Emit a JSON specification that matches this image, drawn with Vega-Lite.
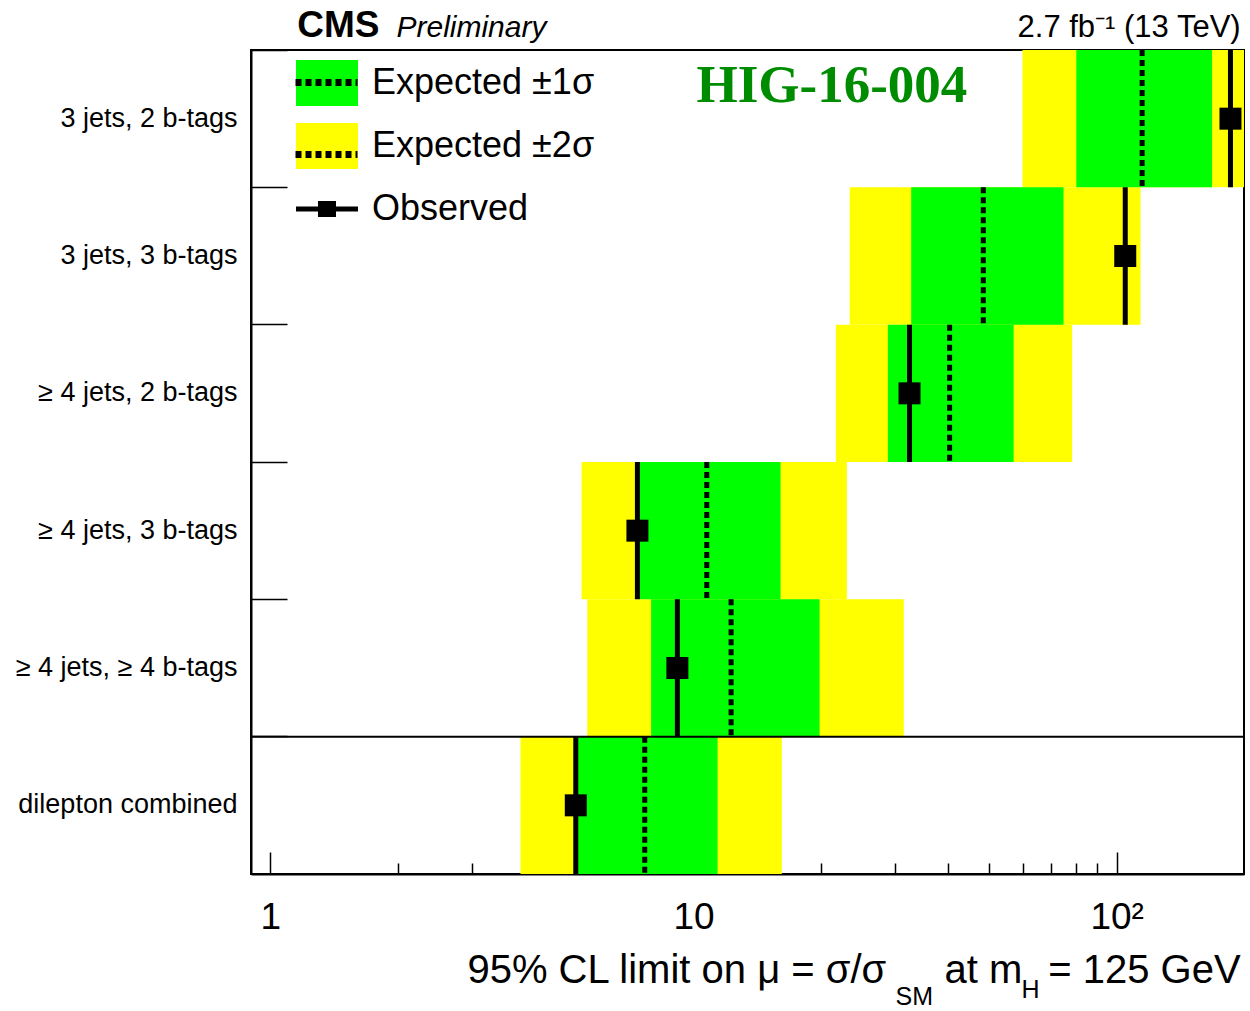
{
  "$schema": "https://vega.github.io/schema/vega-lite/v6.json",
  "autosize": {"type": "none"},
  "padding": {"left": 251, "top": 50, "right": 6, "bottom": 137},
  "width": 993,
  "height": 824,
  "background": "white",
  "config": {"view": {"stroke": "black", "strokeWidth": 2}, "font": "Liberation Sans"},
  "data": {"values": [
    {"cat": "3 jets, 2 b-tags", "lo2": 59.9, "lo1": 80.3, "exp": 114.9, "hi1": 168.1, "hi2": 260, "obs": 185.8},
    {"cat": "3 jets, 3 b-tags", "lo2": 23.4, "lo1": 32.7, "exp": 48.4, "hi1": 74.9, "hi2": 113.9, "obs": 104.8},
    {"cat": "≥ 4 jets, 2 b-tags", "lo2": 21.7, "lo1": 28.8, "exp": 40.3, "hi1": 57.1, "hi2": 78.5, "obs": 32.4},
    {"cat": "≥ 4 jets, 3 b-tags", "lo2": 5.44, "lo1": 7.45, "exp": 10.75, "hi1": 16.06, "hi2": 23.04, "obs": 7.37},
    {"cat": "≥ 4 jets, ≥ 4 b-tags", "lo2": 5.61, "lo1": 7.94, "exp": 12.27, "hi1": 19.86, "hi2": 31.4, "obs": 9.16},
    {"cat": "dilepton combined", "lo2": 3.9, "lo1": 5.32, "exp": 7.67, "hi1": 11.4, "hi2": 16.17, "obs": 5.27}
  ]},
  "layer": [
    {
      "mark": {"type": "bar", "clip": true},
      "encoding": {
        "x": {"field": "lo2", "type": "quantitative",
          "scale": {"type": "log", "domain": [0.9, 200], "nice": false},
          "axis": {"title": null, "grid": false,
            "values": [1, 2, 3, 4, 5, 6, 7, 8, 9, 10, 20, 30, 40, 50, 60, 70, 80, 90, 100],
            "labelExpr": "datum.value == 1 ? '1' : datum.value == 10 ? '10' : datum.value == 100 ? '10²' : ''",
            "tickSize": {"condition": {"test": "datum.value == 1 || datum.value == 10 || datum.value == 100", "value": -22}, "value": -11},
            "tickColor": "black", "tickWidth": 1.5, "domainColor": "black", "domainWidth": 2,
            "labelFontSize": 37, "labelColor": "black", "labelPadding": 47,
            "labelOverlap": false, "labelFlush": false}},
        "x2": {"field": "hi2"},
        "y": {"field": "cat", "type": "nominal", "sort": null,
          "scale": {"paddingInner": 0, "paddingOuter": 0},
          "axis": {"title": null, "bandPosition": 0, "tickSize": -36, "tickColor": "black", "tickWidth": 1.5,
            "domainColor": "black", "domainWidth": 2, "labelFontSize": 27, "labelColor": "black",
            "labelPadding": 50, "labelLimit": 400}},
        "fill": {"datum": "Expected ±2σ", "type": "nominal",
          "scale": {"domain": ["Expected ±1σ", "Expected ±2σ", "Observed"], "range": ["#00ff00", "#ffff00", "#000000"]},
          "legend": {"orient": "none", "legendX": 58, "legendY": 15, "title": null, "padding": 0,
            "gridAlign": "all", "labelLimit": 500,
            "symbolSize": 3844, "labelFontSize": 36, "labelOffset": 27, "rowPadding": -5, "labelColor": "black",
            "symbolStrokeWidth": 0, "symbolOpacity": 1,
            "encode": {"symbols": {"update": {
              "shape": {"signal": "datum.value === 'Observed' ? 'M-1,-0.742L-1,-0.742M-1,0H1M-0.21,-0.18H0.21V0.18H-0.21ZM1,0.742L1,0.742' : 'M-1,-0.742H1V0.742H-1Z'"},
              "stroke": {"signal": "datum.value === 'Observed' ? 'black' : 'transparent'"},
              "strokeWidth": {"signal": "datum.value === 'Observed' ? 5 : 0"}
            }}}}}
      }
    },
    {
      "mark": {"type": "bar", "clip": true},
      "encoding": {
        "x": {"field": "lo1", "type": "quantitative"},
        "x2": {"field": "hi1"},
        "y": {"field": "cat", "type": "nominal", "sort": null},
        "fill": {"datum": "Expected ±1σ", "type": "nominal"}
      }
    },
    {
      "mark": {"type": "rule", "color": "black", "strokeWidth": 5},
      "encoding": {
        "x": {"field": "exp", "type": "quantitative"},
        "y": {"field": "cat", "type": "nominal", "sort": null, "bandPosition": 0},
        "y2": {"field": "cat", "bandPosition": 1},
        "strokeDash": {"datum": "Expected ±1σ", "type": "nominal",
          "scale": {"domain": ["Expected ±1σ", "Expected ±2σ"], "range": [[6, 4], [6, 4]]},
          "legend": {"orient": "none", "legendX": 41, "legendY": -2, "title": null, "padding": 0,
            "gridAlign": "all", "labelLimit": 500, "labelExpr": "''",
            "symbolSize": 3844, "labelFontSize": 36, "labelOffset": 27, "rowPadding": -12, "labelOpacity": 0,
            "symbolType": "M-1,-0.742L-1,-0.742M-1,0H1M1,0.742L1,0.742", "symbolStrokeColor": "black", "symbolStrokeWidth": 7,
            "symbolDash": [8, 7], "symbolFillColor": "transparent"}}
      }
    },
    {
      "mark": {"type": "rule", "color": "black", "strokeWidth": 5},
      "encoding": {
        "x": {"field": "obs", "type": "quantitative"},
        "y": {"field": "cat", "type": "nominal", "sort": null, "bandPosition": 0},
        "y2": {"field": "cat", "bandPosition": 1}
      }
    },
    {
      "mark": {"type": "point", "shape": "square", "size": 484, "filled": true, "opacity": 1, "strokeWidth": 0},
      "encoding": {
        "x": {"field": "obs", "type": "quantitative"},
        "y": {"field": "cat", "type": "nominal", "sort": null},
        "fill": {"datum": "Observed", "type": "nominal"}
      }
    },
    {
      "data": {"values": [{}]},
      "mark": {"type": "rule", "color": "black", "strokeWidth": 2},
      "encoding": {"y": {"datum": "dilepton combined", "type": "nominal", "bandPosition": 0}}
    },
    {
      "data": {"values": [{}]},
      "mark": {"type": "text", "text": "CMS", "fontWeight": "bold", "fontSize": 37, "align": "left", "baseline": "alphabetic", "dy": -81.7, "color": "black"},
      "encoding": {"x": {"datum": 1.158}, "y": {"datum": "3 jets, 2 b-tags", "type": "nominal"}}
    },
    {
      "data": {"values": [{}]},
      "mark": {"type": "text", "text": "Preliminary", "fontStyle": "italic", "fontSize": 30, "align": "left", "baseline": "alphabetic", "dy": -81.7, "color": "black"},
      "encoding": {"x": {"datum": 1.986}, "y": {"datum": "3 jets, 2 b-tags", "type": "nominal"}}
    },
    {
      "data": {"values": [{}]},
      "mark": {"type": "text", "text": "2.7 fb⁻¹ (13 TeV)", "fontSize": 31, "align": "right", "baseline": "alphabetic", "dy": -81.7, "color": "black"},
      "encoding": {"x": {"datum": 196.4}, "y": {"datum": "3 jets, 2 b-tags", "type": "nominal"}}
    },
    {
      "data": {"values": [{}]},
      "mark": {"type": "text", "text": "HIG-16-004", "font": "Liberation Serif", "fontWeight": "bold", "fontSize": 53, "align": "left", "baseline": "alphabetic", "dy": -16.7, "color": "#008c00"},
      "encoding": {"x": {"datum": 10.16}, "y": {"datum": "3 jets, 2 b-tags", "type": "nominal"}}
    },
    {
      "data": {"values": [{}]},
      "mark": {"type": "text", "text": "95% CL limit on μ = σ/σ", "fontSize": 40, "align": "left", "baseline": "alphabetic", "dy": 177.7, "color": "black"},
      "encoding": {"x": {"datum": 2.922}, "y": {"datum": "dilepton combined", "type": "nominal"}}
    },
    {
      "data": {"values": [{}]},
      "mark": {"type": "text", "text": "SM", "fontSize": 25, "align": "left", "baseline": "alphabetic", "dy": 199.7, "color": "black"},
      "encoding": {"x": {"datum": 30.03}, "y": {"datum": "dilepton combined", "type": "nominal"}}
    },
    {
      "data": {"values": [{}]},
      "mark": {"type": "text", "text": "at m", "fontSize": 40, "align": "left", "baseline": "alphabetic", "dy": 177.7, "color": "black"},
      "encoding": {"x": {"datum": 39.21}, "y": {"datum": "dilepton combined", "type": "nominal"}}
    },
    {
      "data": {"values": [{}]},
      "mark": {"type": "text", "text": "H", "fontSize": 25, "align": "left", "baseline": "alphabetic", "dy": 192.7, "color": "black"},
      "encoding": {"x": {"datum": 59.6}, "y": {"datum": "dilepton combined", "type": "nominal"}}
    },
    {
      "data": {"values": [{}]},
      "mark": {"type": "text", "text": "= 125 GeV", "fontSize": 40, "align": "right", "baseline": "alphabetic", "dy": 177.7, "color": "black"},
      "encoding": {"x": {"datum": 196.4}, "y": {"datum": "dilepton combined", "type": "nominal"}}
    }
  ]
}
